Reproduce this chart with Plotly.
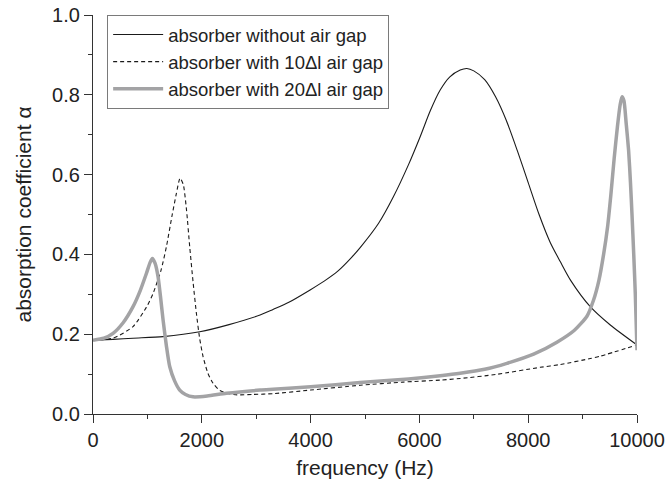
import plotly.graph_objects as go

# no air gap (solid black)
f_none = [0, 368, 736, 1288, 1962, 2500, 3071, 3310, 3600, 3991, 4250, 4500, 4750, 4911, 5250, 5524, 5800, 6014, 6200, 6382, 6560, 6750, 6872, 7000, 7200, 7400, 7600, 7800, 8000, 8200, 8405, 8589, 8780, 9141, 9509, 10000]
a_none = [0.185, 0.187, 0.190, 0.194, 0.206, 0.224, 0.248, 0.262, 0.280, 0.311, 0.333, 0.358, 0.392, 0.417, 0.478, 0.545, 0.625, 0.695, 0.760, 0.812, 0.845, 0.862, 0.866, 0.860, 0.838, 0.795, 0.735, 0.660, 0.580, 0.500, 0.430, 0.382, 0.335, 0.269, 0.223, 0.173]

# 10Δl air gap (dashed)
f_10 = [0, 368, 736, 1000, 1104, 1250, 1349, 1450, 1533, 1600, 1660, 1720, 1778, 1840, 1901, 1960, 2023, 2110, 2207, 2320, 2452, 2650, 2943, 3310, 4000, 4911, 5700, 6382, 6750, 7400, 8221, 8589, 9141, 9325, 10000]
a_10 = [0.185, 0.190, 0.219, 0.272, 0.302, 0.360, 0.419, 0.495, 0.553, 0.591, 0.575, 0.510, 0.419, 0.330, 0.252, 0.190, 0.144, 0.103, 0.077, 0.060, 0.052, 0.048, 0.049, 0.051, 0.060, 0.072, 0.080, 0.085, 0.089, 0.099, 0.117, 0.124, 0.139, 0.145, 0.173]

# 20Δl air gap (thick gray)
f_20 = [0, 200, 368, 550, 736, 870, 981, 1050, 1091, 1140, 1196, 1240, 1288, 1350, 1410, 1500, 1594, 1700, 1839, 2100, 2452, 3071, 3310, 4000, 4911, 5800, 6382, 6750, 7200, 7608, 8100, 8528, 8850, 9080, 9200, 9300, 9386, 9460, 9520, 9580, 9640, 9690, 9724, 9760, 9800, 9846, 9880, 9908, 9940, 9969, 10000]
a_20 = [0.185, 0.190, 0.202, 0.228, 0.269, 0.310, 0.352, 0.380, 0.390, 0.378, 0.344, 0.295, 0.236, 0.170, 0.119, 0.083, 0.060, 0.049, 0.043, 0.045, 0.052, 0.060, 0.062, 0.068, 0.079, 0.088, 0.096, 0.102, 0.112, 0.127, 0.150, 0.180, 0.210, 0.245, 0.285, 0.335, 0.400, 0.470, 0.550, 0.640, 0.720, 0.775, 0.795, 0.785, 0.730, 0.660, 0.580, 0.500, 0.400, 0.300, 0.160]

x_ticks = [0, 2000, 4000, 6000, 8000, 10000]
y_ticks = [0.0, 0.2, 0.4, 0.6, 0.8, 1.0]

FONT = "Liberation Sans, Arial, sans-serif"

fig = go.Figure()
fig.add_trace(go.Scatter(x=f_none, y=a_none, mode="lines", name="absorber without air gap",
                         line=dict(color="#1a1a1a", width=1.1, shape="spline", smoothing=0.7)))
fig.add_trace(go.Scatter(x=f_10, y=a_10, mode="lines", name="absorber with 10\u0394l air gap",
                         line=dict(color="#1a1a1a", width=1.1, dash="4px,3px", shape="spline", smoothing=0.6)))
fig.add_trace(go.Scatter(x=f_20, y=a_20, mode="lines", name="absorber with 20\u0394l air gap",
                         line=dict(color="#a3a3a5", width=3.5, shape="spline", smoothing=0.6)))

fig.update_layout(
    width=668, height=488,
    margin=dict(l=93, r=31, t=15, b=74, autoexpand=False),
    paper_bgcolor="white", plot_bgcolor="white",
    font=dict(family=FONT, size=20, color="#222222"),
    showlegend=True,
    legend=dict(x=0.026, y=1.0, xanchor="left", yanchor="top",
                bordercolor="#7a7a7a", borderwidth=1, bgcolor="white",
                font=dict(family=FONT, size=18.5, color="#222222"),
                itemwidth=50, tracegroupgap=0, traceorder="normal"),
    xaxis=dict(range=[0, 10000], tickmode="array", tickvals=x_ticks,
               ticktext=[str(v) for v in x_ticks], tickfont=dict(size=20),
               showgrid=False, zeroline=False, showline=True, linecolor="#333333", linewidth=1.2,
               ticks="outside", ticklen=8, tickwidth=1.2, tickcolor="#333333",
               minor=dict(ticks="outside", ticklen=4, tickwidth=1.2, tickcolor="#333333", dtick=1000),
               title=dict(text="frequency (Hz)", standoff=10, font=dict(size=21)),
               automargin=False),
    yaxis=dict(range=[0, 1.0], tickmode="array", tickvals=y_ticks,
               ticktext=["%.1f" % v for v in y_ticks], tickfont=dict(size=20),
               showgrid=False, zeroline=False, showline=True, linecolor="#333333", linewidth=1.2,
               ticks="outside", ticklen=8, tickwidth=1.2, tickcolor="#333333",
               minor=dict(ticks="outside", ticklen=4, tickwidth=1.2, tickcolor="#333333", dtick=0.1),
               title=dict(text="absorption coefficient \u03b1", standoff=14, font=dict(size=21)),
               automargin=False),
)

fig.write_html("out.html")
